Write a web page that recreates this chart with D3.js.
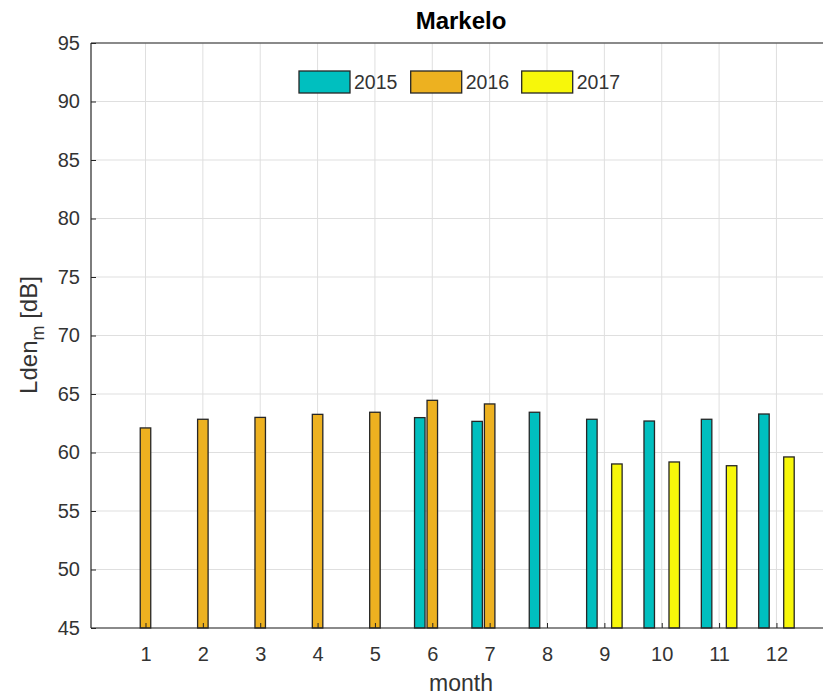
<!DOCTYPE html>
<html><head><meta charset="utf-8">
<script src="https://cdn.jsdelivr.net/npm/d3@7"></script>
<style>body{margin:0;background:#fff}svg{display:block}text{font-family:"Liberation Sans",Arial,sans-serif}</style>
</head><body><svg id="c" width="823" height="697"></svg>
<script>
const months = [1,2,3,4,5,6,7,8,9,10,11,12];
const seriesNames = ["2015","2016","2017"];
const s2015 = [null,null,null,null,null,62.98,62.66,63.44,62.84,62.69,62.84,63.29];
const s2016 = [62.1,62.84,63.0,63.26,63.44,64.46,64.15,null,null,null,null,null];
const s2017 = [null,null,null,null,null,null,null,null,59.02,59.19,58.87,59.62];
const yTicks = [45,50,55,60,65,70,75,80,85,90,95];
const colors = ["#00BFBF","#EDB120","#F7F70A"];

const svg = d3.select("#c");
const L=91, T=43, B=628;
const x = d3.scaleLinear().domain([0.05,12.95]).range([L, L+12.9*57.36]);
const y = d3.scaleLinear().domain([45,95]).range([B,T]);
const R = x.range()[1];

const g = svg.append("g");
// grid
g.selectAll(".gy").data(yTicks).join("line").attr("x1",L).attr("x2",R)
 .attr("y1",d=>y(d)).attr("y2",d=>y(d)).attr("stroke","#dfdfdf").attr("stroke-width",1);
g.selectAll(".gx").data(months).join("line").attr("y1",T).attr("y2",B)
 .attr("x1",d=>x(d)).attr("x2",d=>x(d)).attr("stroke","#dfdfdf").attr("stroke-width",1);

// bars
const off = [-0.218,0,0.218], bw = 0.183;
[s2015,s2016,s2017].forEach((s,i)=>{
  const data = months.map((m,j)=>({m,v:s[j]})).filter(d=>d.v!=null);
  g.selectAll(null).data(data).join("rect")
   .attr("x",d=>x(d.m+off[i]-bw/2)).attr("width",x(bw)-x(0))
   .attr("y",d=>y(d.v)).attr("height",d=>y(45)-y(d.v))
   .attr("fill",colors[i]).attr("stroke","#262626").attr("stroke-width",1.3);
});

// axes
const axC="#262626", txC="#333333";
const yAx = d3.axisLeft(y).tickValues(yTicks).tickSize(-5).tickPadding(11);
const xAx = d3.axisBottom(x).tickValues(months).tickSize(-5).tickPadding(19);
const ya = svg.append("g").attr("transform",`translate(${L},0)`).call(yAx);
const xa = svg.append("g").attr("transform",`translate(0,${B})`).call(xAx);
[ya,xa].forEach(a=>{
  a.select(".domain").remove();
  a.selectAll(".tick line").attr("stroke",axC);
  a.selectAll(".tick text").attr("fill",txC).style("font-size","20px").style("font-family","'Liberation Sans',Arial,sans-serif");
});
svg.append("line").attr("x1",L).attr("x2",L).attr("y1",T).attr("y2",B).attr("stroke",axC).attr("stroke-width",1.2);
svg.append("line").attr("x1",L).attr("x2",R).attr("y1",B).attr("y2",B).attr("stroke",axC).attr("stroke-width",1.2);
svg.append("line").attr("x1",L).attr("x2",R).attr("y1",T).attr("y2",T).attr("stroke",axC).attr("stroke-width",1.2);

// title
svg.append("text").attr("x",461).attr("y",29).attr("text-anchor","middle")
 .style("font-size","24px").style("font-weight","bold").attr("fill","#000").text("Markelo");
// x label
svg.append("text").attr("x",461).attr("y",691).attr("text-anchor","middle")
 .style("font-size","23px").attr("fill",txC).text("month");
// y label
const yl = svg.append("text").attr("transform","translate(37,335) rotate(-90)").attr("text-anchor","middle")
 .style("font-size","24px").attr("fill",txC);
yl.append("tspan").text("Lden");
yl.append("tspan").attr("dy",7).style("font-size","18px").text("m");
yl.append("tspan").attr("dy",-7).text(" [dB]");

// legend
const lgX=[299,410.7,521.7];
seriesNames.forEach((n,i)=>{
  svg.append("rect").attr("x",lgX[i]).attr("y",71).attr("width",51).attr("height",22)
   .attr("fill",colors[i]).attr("stroke","#262626").attr("stroke-width",1.3);
  svg.append("text").attr("x",lgX[i]+55).attr("y",89).style("font-size","19.5px").attr("fill",txC).text(n);
});
</script></body></html>
